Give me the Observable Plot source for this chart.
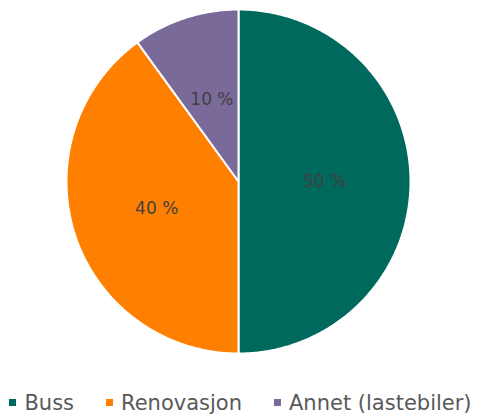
<!DOCTYPE html>
<html><head><meta charset="utf-8">
<script src="https://cdn.jsdelivr.net/npm/d3@7"></script>
<script src="https://cdn.jsdelivr.net/npm/@observablehq/plot@0.6"></script>
<style>
body{margin:0;background:#fff;font-family:"DejaVu Sans",sans-serif;width:477px;height:419px;overflow:hidden}
#legend{display:flex;justify-content:center;align-items:center;height:39px;font-size:21px;color:#595959;gap:32px;padding-top:6px;padding-left:4px;box-sizing:border-box}
#legend .item{display:flex;align-items:center;gap:8px;white-space:nowrap}
#legend .sw{width:7px;height:7px;display:inline-block}
</style>
</head><body><div id="chart"></div><div id="legend"></div>
<script>
const categories = ["Buss", "Renovasjon", "Annet (lastebiler)"];
const values = [50, 40, 10];
const labels = ["50 %", "40 %", "10 %"];
const colors = ["#00695e", "#ff8000", "#7a6a9a"];

const arcs = d3.pie().sort(null).value(d => d.value)(
  categories.map((c, i) => ({category: c, value: values[i], label: labels[i]}))
);
const outline = [];
for (const a of arcs) {
  const c = a.data.category;
  const n = Math.max(2, Math.ceil((a.endAngle - a.startAngle) / 0.01));
  outline.push({category: c, x: 0, y: 0});
  for (let k = 0; k <= n; k++) {
    const t = a.startAngle + (a.endAngle - a.startAngle) * k / n;
    outline.push({category: c, x: Math.sin(t), y: Math.cos(t)});
  }
  outline.push({category: c, x: 0, y: 0});
}
const labelPts = arcs.map(a => {
  const m = (a.startAngle + a.endAngle) / 2;
  return {label: a.data.label, x: 0.5 * Math.sin(m), y: 0.5 * Math.cos(m)};
});

const chart = Plot.plot({
  width: 477, height: 380, margin: 0,
  style: {background: "white", fontFamily: "DejaVu Sans, sans-serif"},
  x: {domain: [-1, 1], range: [66, 410], axis: null},
  y: {domain: [-1, 1], range: [353, 9], axis: null},
  color: {domain: categories, range: colors},
  marks: [
    Plot.line(outline, {x: "x", y: "y", z: "category", fill: "category", stroke: "white", strokeWidth: 2, strokeLinejoin: "miter"}),
    Plot.text(labelPts, {x: "x", y: "y", text: "label", fontSize: 17, fill: "#404040"})
  ]
});
document.getElementById("chart").appendChild(chart);

const legend = document.getElementById("legend");
categories.forEach((c, i) => {
  const it = document.createElement("span");
  it.className = "item";
  const sw = document.createElement("span");
  sw.className = "sw";
  sw.style.background = colors[i];
  const tx = document.createElement("span");
  tx.textContent = c;
  it.appendChild(sw); it.appendChild(tx);
  legend.appendChild(it);
});
</script>
</body></html>
